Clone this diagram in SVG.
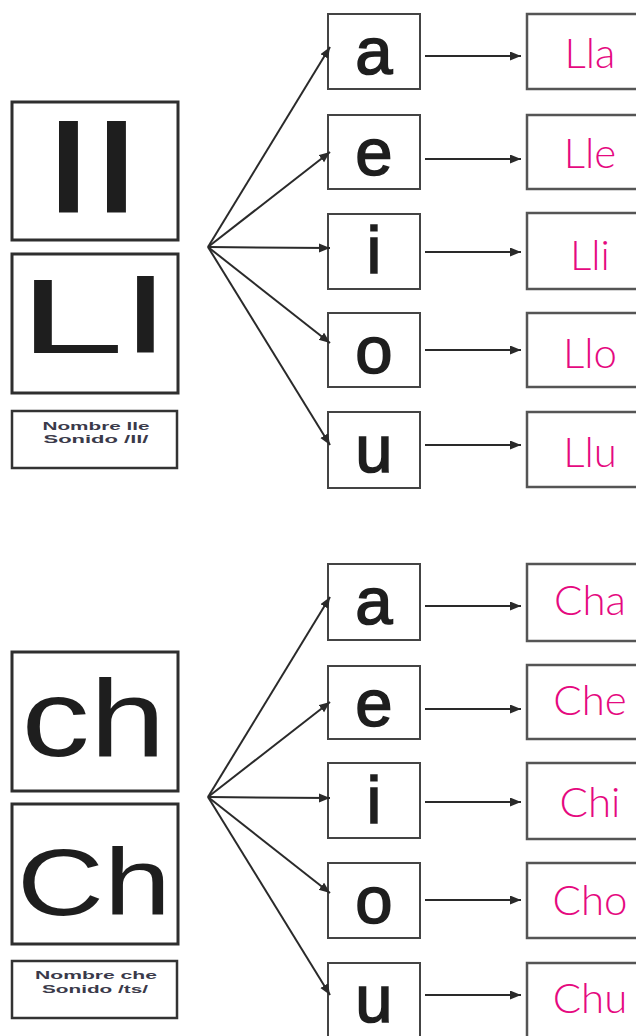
<svg xmlns="http://www.w3.org/2000/svg" width="636" height="1036" viewBox="0 0 636 1036">
<style>
.big{fill:#fff;stroke:#2e2e2e;stroke-width:3}
.small{fill:#fff;stroke:#333;stroke-width:2.5}
.vbox{fill:#fff;stroke:#444;stroke-width:2}
.rbox{fill:#fff;stroke:#555;stroke-width:2.5}
.glyph{font-family:"Liberation Sans",Arial,sans-serif;fill:#1e1e1e}
.note{font-family:"Liberation Sans",Arial,sans-serif;font-weight:bold;font-size:11px;fill:#3a3a4a;text-anchor:middle}
.vowel{font-family:"Liberation Sans",Arial,sans-serif;font-size:67px;fill:#1e1e1e;stroke:#1e1e1e;stroke-width:1.6;text-anchor:middle}
.syl{font-family:Lato,"Noto Sans","Open Sans",sans-serif;font-weight:300;font-size:42px;fill:#e5097f;text-anchor:middle}
.conn line{stroke:#2a2a2a;stroke-width:2;marker-end:url(#ah)}
</style>
<defs>
<marker id="ah" markerUnits="userSpaceOnUse" markerWidth="12" markerHeight="10" refX="11" refY="4.5" orient="auto">
<path d="M0,0 L11,4.5 L0,9 z" fill="#2a2a2a"/>
</marker>
</defs>
<rect width="636" height="1036" fill="#fff"/>

<g id="ll-lower">
<rect class="big" x="12" y="102" width="166" height="138"/>
<text class="glyph" x="44.6" y="213" font-size="126" textLength="95.7" lengthAdjust="spacingAndGlyphs">ll</text>
</g>
<g id="ll-upper">
<rect class="big" x="12" y="254" width="166" height="139"/>
<text class="glyph" x="18.5" y="353" font-size="105" textLength="148" lengthAdjust="spacingAndGlyphs">Ll</text>
</g>
<g id="ll-note">
<rect class="small" x="12" y="411" width="165" height="57"/>
<text class="note" x="96" y="430" textLength="107" lengthAdjust="spacingAndGlyphs">Nombre lle</text>
<text class="note" x="96" y="443" textLength="105" lengthAdjust="spacingAndGlyphs">Sonido /ll/</text>
</g>

<g id="ch-lower">
<rect class="big" x="12" y="652" width="166" height="139"/>
<text class="glyph" x="21.5" y="756" font-size="109" textLength="144" lengthAdjust="spacingAndGlyphs">ch</text>
</g>
<g id="ch-upper">
<rect class="big" x="12" y="804" width="166" height="140"/>
<text class="glyph" x="17" y="915" font-size="94" textLength="153.8" lengthAdjust="spacingAndGlyphs">Ch</text>
</g>
<g id="ch-note">
<rect class="small" x="12" y="961" width="165" height="57"/>
<text class="note" x="96" y="979" textLength="122" lengthAdjust="spacingAndGlyphs">Nombre che</text>
<text class="note" x="95" y="993" textLength="106" lengthAdjust="spacingAndGlyphs">Sonido /ts/</text>
</g>

<g id="v1a"><rect class="vbox" x="328" y="14" width="92" height="75"/><text class="vowel" x="374" y="74">a</text></g>
<g id="v1e"><rect class="vbox" x="328" y="115" width="92" height="74"/><text class="vowel" x="374" y="175">e</text></g>
<g id="v1i"><rect class="vbox" x="328" y="214" width="92" height="75"/><text class="vowel" x="374" y="273">i</text></g>
<g id="v1o"><rect class="vbox" x="328" y="313" width="92" height="74"/><text class="vowel" x="374" y="373">o</text></g>
<g id="v1u"><rect class="vbox" x="328" y="412" width="92" height="76"/><text class="vowel" x="374" y="472">u</text></g>

<g id="s1a"><rect class="rbox" x="527" y="14" width="130" height="75"/><text class="syl" x="590" y="68">Lla</text></g>
<g id="s1e"><rect class="rbox" x="527" y="115" width="130" height="74"/><text class="syl" x="590" y="168">Lle</text></g>
<g id="s1i"><rect class="rbox" x="527" y="213" width="130" height="76"/><text class="syl" x="590" y="270">Lli</text></g>
<g id="s1o"><rect class="rbox" x="527" y="313" width="130" height="74"/><text class="syl" x="590" y="368">Llo</text></g>
<g id="s1u"><rect class="rbox" x="527" y="412" width="130" height="75"/><text class="syl" x="590" y="467">Llu</text></g>

<g id="v2a"><rect class="vbox" x="328" y="564" width="92" height="76"/><text class="vowel" x="374" y="624">a</text></g>
<g id="v2e"><rect class="vbox" x="328" y="666" width="92" height="73"/><text class="vowel" x="374" y="726">e</text></g>
<g id="v2i"><rect class="vbox" x="328" y="763" width="92" height="75"/><text class="vowel" x="374" y="823">i</text></g>
<g id="v2o"><rect class="vbox" x="328" y="863" width="92" height="75"/><text class="vowel" x="374" y="923">o</text></g>
<g id="v2u"><rect class="vbox" x="328" y="963" width="92" height="80"/><text class="vowel" x="374" y="1022">u</text></g>

<g id="s2a"><rect class="rbox" x="527" y="564" width="130" height="77"/><text class="syl" x="590" y="615">Cha</text></g>
<g id="s2e"><rect class="rbox" x="527" y="665" width="130" height="74"/><text class="syl" x="590" y="715">Che</text></g>
<g id="s2i"><rect class="rbox" x="527" y="763" width="130" height="76"/><text class="syl" x="590" y="817">Chi</text></g>
<g id="s2o"><rect class="rbox" x="527" y="863" width="130" height="75"/><text class="syl" x="590" y="915">Cho</text></g>
<g id="s2u"><rect class="rbox" x="527" y="963" width="130" height="80"/><text class="syl" x="590" y="1013">Chu</text></g>

<g id="connectors" class="conn">
<line x1="208" y1="247" x2="330" y2="47"/>
<line x1="208" y1="247" x2="330" y2="152"/>
<line x1="208" y1="247" x2="330" y2="248"/>
<line x1="208" y1="247" x2="330" y2="343"/>
<line x1="208" y1="247" x2="330" y2="445"/>
<line x1="425" y1="56" x2="521" y2="56"/>
<line x1="425" y1="159" x2="521" y2="159"/>
<line x1="425" y1="252" x2="521" y2="252"/>
<line x1="425" y1="350" x2="521" y2="350"/>
<line x1="425" y1="445" x2="521" y2="445"/>
<line x1="208" y1="797" x2="330" y2="597"/>
<line x1="208" y1="797" x2="330" y2="702"/>
<line x1="208" y1="797" x2="330" y2="798"/>
<line x1="208" y1="797" x2="330" y2="893"/>
<line x1="208" y1="797" x2="330" y2="995"/>
<line x1="425" y1="606" x2="521" y2="606"/>
<line x1="425" y1="709" x2="521" y2="709"/>
<line x1="425" y1="802" x2="521" y2="802"/>
<line x1="425" y1="900" x2="521" y2="900"/>
<line x1="425" y1="995" x2="521" y2="995"/>
</g>
</svg>
